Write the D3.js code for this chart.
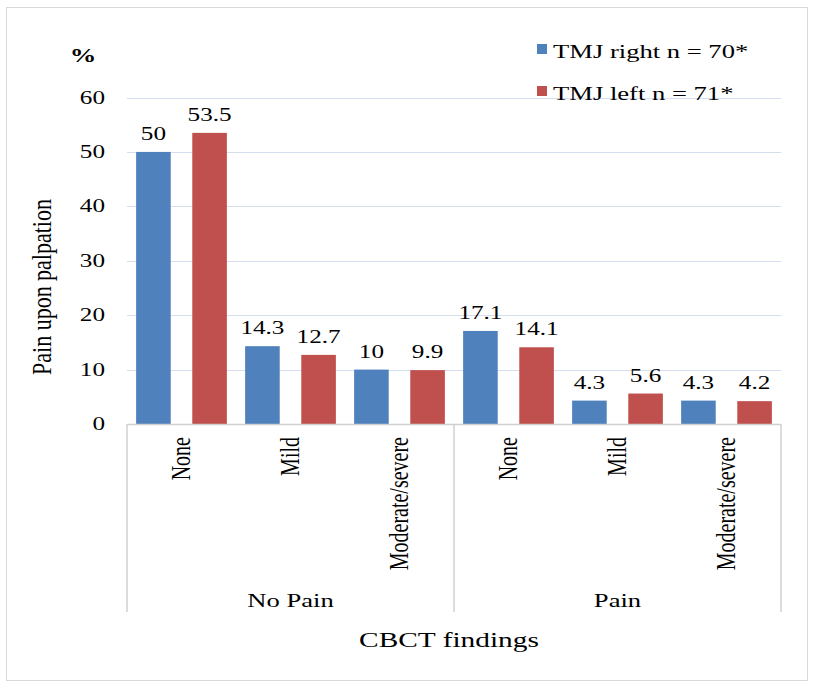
<!DOCTYPE html>
<html>
<head>
<meta charset="utf-8">
<script src="https://cdn.jsdelivr.net/npm/d3@7"></script>
<style>
  html, body { margin: 0; padding: 0; background: #fff; }
  svg { display: block; }
  text { font-family: "Liberation Serif", "Times New Roman", serif; fill: #000; }
</style>
</head>
<body>
<script>
// ---- data ----
const groups = ["No Pain", "Pain"];
const findings = ["None", "Mild", "Moderate/severe"];
const seriesNames = ["TMJ right n = 70*", "TMJ left n = 71*"];
const rightValues = [50, 14.3, 10, 17.1, 4.3, 4.3];
const leftValues = [53.5, 12.7, 9.9, 14.1, 5.6, 4.2];
const yTicks = [0, 10, 20, 30, 40, 50, 60];
const colors = ["#4f81bd", "#c0504d"];

// ---- layout ----
const W = 813, H = 685;
const plot = { left: 127, right: 781, top: 97.5, bottom: 424 };
const SX = 1.4; // horizontal stretch of the original image's text

const svg = d3.select("body").append("svg").attr("width", W).attr("height", H);

// outer frame
svg.append("rect").attr("x", 6.5).attr("y", 7.5).attr("width", 801).attr("height", 673)
  .attr("fill", "none").attr("stroke", "#d9d9d9").attr("stroke-width", 1);

const cats = [];
groups.forEach(g => findings.forEach(f => cats.push({ group: g, finding: f })));
const rows = cats.map((c, i) => ({ ...c, i, values: [rightValues[i], leftValues[i]] }));

const x0 = d3.scaleBand().domain(d3.range(cats.length)).range([plot.left, plot.right]).padding(0);
const x1 = d3.scaleBand().domain([0, 1]).range([0, x0.bandwidth()]).paddingInner(0.384).paddingOuter(0.1625);
const y = d3.scaleLinear().domain([0, 60]).range([plot.bottom, plot.top]);

function stext(sel, x, y, str, opts = {}) {
  const sx = opts.sx || SX;
  const t = sel.append("text")
    .attr("transform", `translate(${x},${y}) scale(${sx},1)` + (opts.rotate ? ` rotate(${opts.rotate})` : ""))
    .attr("text-anchor", opts.anchor || "middle")
    .style("font-size", (opts.size || 18) + "px")
    .text(str);
  if (opts.weight) t.style("font-weight", opts.weight);
  return t;
}

// gridlines
svg.append("g").selectAll("line").data(yTicks.filter(d => d > 0)).join("line")
  .attr("x1", plot.left).attr("x2", plot.right)
  .attr("y1", d => Math.round(y(d)) + 0.5).attr("y2", d => Math.round(y(d)) + 0.5)
  .attr("stroke", "#d5deef").attr("stroke-width", 1.2);

// y tick labels
const yl = svg.append("g");
yTicks.forEach(t => stext(yl, 105, y(t) + 6, String(t), { anchor: "end", size: 18 }));

// bars
const barG = svg.append("g");
rows.forEach(r => {
  r.values.forEach((v, s) => {
    barG.append("rect")
      .attr("x", x0(r.i) + x1(s)).attr("width", x1.bandwidth())
      .attr("y", y(v)).attr("height", y(0) - y(v))
      .attr("fill", colors[s]);
    stext(barG, x0(r.i) + x1(s) + x1.bandwidth() / 2, y(v) - 12, String(v), { size: 18 });
  });
});

// x axis line and group dividers
const axisColor = "#d0d0d0";
svg.append("line").attr("x1", plot.left).attr("x2", plot.right)
  .attr("y1", plot.bottom + 0.5).attr("y2", plot.bottom + 0.5).attr("stroke", axisColor).attr("stroke-width", 1.5);
const dividers = [0, 3, 6].map(i => i < 6 ? x0(i) : plot.right);
svg.append("g").selectAll("line").data(dividers).join("line")
  .attr("x1", d => d).attr("x2", d => d)
  .attr("y1", plot.bottom).attr("y2", 612)
  .attr("stroke", axisColor).attr("stroke-width", 1.5);

// category labels (rotated)
const cl = svg.append("g");
rows.forEach(r => {
  stext(cl, x0(r.i) + x0.bandwidth() / 2 + 8, 437, r.finding, { anchor: "end", size: 20, rotate: -90 });
});

// group labels
const gl = svg.append("g");
groups.forEach((g, gi) => {
  const a = x0(gi * 3), b = gi * 3 + 3 < 6 ? x0(gi * 3 + 3) : plot.right;
  stext(gl, (a + b) / 2, 607, g, { size: 19 });
});

// axis titles
stext(svg, 449, 647, "CBCT findings", { size: 21 });
stext(svg, 51, 287, "Pain upon palpation", { size: 22, rotate: -90, sx: 1.2 });
stext(svg, 83, 62, "%", { size: 19, weight: "bold" });

// legend
const lg = svg.append("g");
seriesNames.forEach((n, i) => {
  const yy = 44 + i * 42;
  lg.append("rect").attr("x", 537).attr("y", yy).attr("width", 10).attr("height", 10).attr("fill", colors[i]);
  stext(lg, 553, yy + 14, n, { anchor: "start", size: 19 });
});
</script>
</body>
</html>
